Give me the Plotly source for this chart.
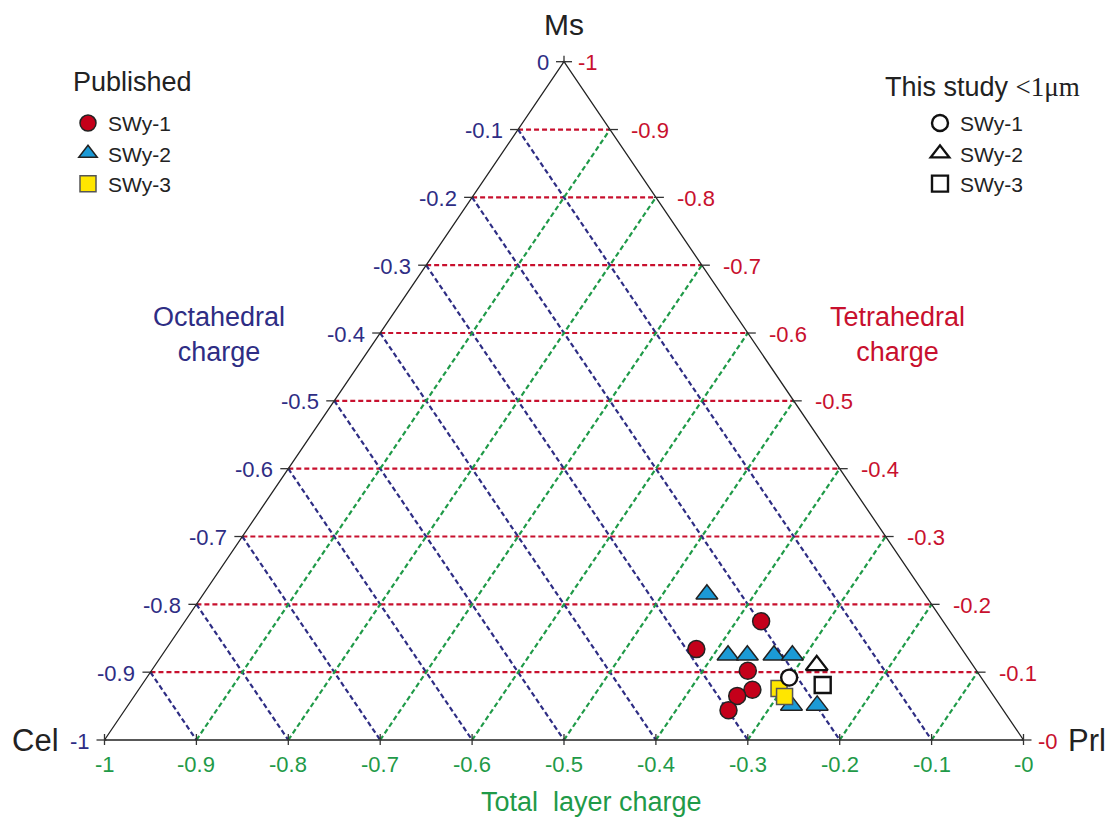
import plotly.graph_objects as go

# Layer-charge composition of the samples: octahedral and tetrahedral charge
pub_swy1_oct = [-0.198, -0.289, -0.249, -0.258, -0.279, -0.299]
pub_swy1_tet = [-0.175, -0.134, -0.102, -0.074, -0.065, -0.044]
pub_swy2_oct = [-0.237, -0.259, -0.238, -0.209, -0.189, -0.227, -0.199]
pub_swy2_tet = [-0.215, -0.125, -0.125, -0.125, -0.125, -0.051, -0.051]
pub_swy3_oct = [-0.228, -0.228]
pub_swy3_tet = [-0.076, -0.064]
study_swy1_oct = [-0.209]
study_swy1_tet = [-0.092]
study_swy2_oct = [-0.170]
study_swy2_tet = [-0.110]
study_swy3_oct = [-0.178]
study_swy3_tet = [-0.081]

# Grid / tick levels (charge magnitude) and their labels
grid_levels = [0.1, 0.2, 0.3, 0.4, 0.5, 0.6, 0.7, 0.8, 0.9]
tick_levels = [0.0, 0.1, 0.2, 0.3, 0.4, 0.5, 0.6, 0.7, 0.8, 0.9, 1.0]
oct_tick_labels = ["0", "-0.1", "-0.2", "-0.3", "-0.4", "-0.5", "-0.6", "-0.7", "-0.8", "-0.9", "-1"]
tet_tick_labels = ["-0", "-0.1", "-0.2", "-0.3", "-0.4", "-0.5", "-0.6", "-0.7", "-0.8", "-0.9", "-1"]
total_tick_labels = ["-1", "-0.9", "-0.8", "-0.7", "-0.6", "-0.5", "-0.4", "-0.3", "-0.2", "-0.1", "-0"]
total_tick_values = [-1.0, -0.9, -0.8, -0.7, -0.6, -0.5, -0.4, -0.3, -0.2, -0.1, 0.0]

NAVY = "#2e2d84"
RED = "#c8102e"
GREEN = "#1f9a48"
INK = "#222222"
FONT = "Arial, Liberation Sans, sans-serif"

# Pixel scale of the diagram (used for small tick lengths)
PX_X = 919.0
PX_Y = 678.3


def project(oct_c, tet_c):
    """Map (octahedral, tetrahedral) charge to diagram coordinates.
    Cel (-1, 0) -> (-1, 0); Prl (0, 0) -> (0, 0); Ms (0, -1) -> (-0.5, 1)."""
    xs = [o + 0.5 * t for o, t in zip(oct_c, tet_c)]
    ys = [-t for t in tet_c]
    return xs, ys


fig = go.Figure()


def add_segments(segs, color, width, dash=None):
    xs, ys = [], []
    for (x0, y0), (x1, y1) in segs:
        xs += [x0, x1, None]
        ys += [y0, y1, None]
    fig.add_trace(go.Scatter(x=xs, y=ys, mode="lines", showlegend=False, hoverinfo="skip",
                             line=dict(color=color, width=width, dash=dash)))


def pt(o, t):
    x, y = project([o], [t])
    return (x[0], y[0])


DASH = "5px,3px"
# Tetrahedral-charge grid (horizontal, red)
add_segments([(pt(-(1 - k), -k), pt(0, -k)) for k in grid_levels], RED, 2.2, DASH)
# Octahedral-charge grid (navy)
add_segments([(pt(-k, -(1 - k)), pt(-k, 0)) for k in grid_levels], NAVY, 2.2, DASH)
# Total-charge grid (green): constant oct + tet
add_segments([(pt(-k, 0), pt(0, -k)) for k in grid_levels], GREEN, 2.2, DASH)

# Triangle frame
cel, prl, ms = pt(-1, 0), pt(0, 0), pt(0, -1)
fig.add_trace(go.Scatter(x=[cel[0], prl[0], ms[0], cel[0]], y=[cel[1], prl[1], ms[1], cel[1]],
                         mode="lines", showlegend=False, hoverinfo="skip",
                         line=dict(color=INK, width=1.3)))

# Tick marks
tick_segs = []
for k in tick_levels:
    lx, ly = pt(-k, -(1 - k))
    tick_segs.append(((lx - 8 / PX_X, ly), (lx + 2 / PX_X, ly)))
    rx, ry = pt(0, -k)
    tick_segs.append(((rx - 2 / PX_X, ry), (rx + 8 / PX_X, ry)))
for v in total_tick_values:
    bx, by = pt(v, 0)
    tick_segs.append(((bx, by - 5 / PX_Y), (bx, by + 6 / PX_Y)))
tick_segs.append(((ms[0], ms[1]), (ms[0], ms[1] + 6 / PX_Y)))
add_segments(tick_segs, "#333333", 1.3)


# Sample markers
def add_points(oct_c, tet_c, name, symbol, fill, edge, ew, size, legend, rank):
    xs, ys = project(oct_c, tet_c)
    fig.add_trace(go.Scatter(x=xs, y=ys, mode="markers", name=name, legend=legend, legendrank=rank,
                             marker=dict(symbol=symbol, size=size, color=fill,
                                         line=dict(color=edge, width=ew)),
                             hoverinfo="skip"))


add_points(pub_swy2_oct, pub_swy2_tet, "SWy-2", "triangle-up", "#1b9ad6", INK, 1.5, 19, "legend", 2)
add_points(pub_swy1_oct, pub_swy1_tet, "SWy-1", "circle", "#c4001a", INK, 1.5, 17, "legend", 1)
add_points(pub_swy3_oct, pub_swy3_tet, "SWy-3", "square", "#ffe600", "#555555", 1.5, 16, "legend", 3)
add_points(study_swy1_oct, study_swy1_tet, "SWy-1", "circle", "white", "#111111", 2.4, 16, "legend2", 1)
add_points(study_swy2_oct, study_swy2_tet, "SWy-2", "triangle-up", "white", "#111111", 2.4, 19, "legend2", 2)
add_points(study_swy3_oct, study_swy3_tet, "SWy-3", "square", "white", "#111111", 2.4, 16, "legend2", 3)

annotations = []
TICK_FONT = dict(family=FONT, size=22)

# Octahedral-charge labels along the left side
for k, lab in zip(tick_levels, oct_tick_labels):
    x, y = pt(-k, -(1 - k))
    annotations.append(dict(x=x, y=y, text=lab, showarrow=False, xanchor="right", yanchor="middle",
                            xshift=-13, yshift=-1, font=dict(color=NAVY, **TICK_FONT)))
# Tetrahedral-charge labels along the right side
for k, lab in zip(tick_levels, tet_tick_labels):
    x, y = pt(0, -k)
    shift = 12 if k in (0.0, 1.0) else 19
    annotations.append(dict(x=x, y=y, text=lab, showarrow=False, xanchor="left", yanchor="middle",
                            xshift=shift, yshift=-1, font=dict(color=RED, **TICK_FONT)))
# Total-charge labels along the base
for v, lab in zip(total_tick_values, total_tick_labels):
    x, y = pt(v, 0)
    annotations.append(dict(x=x, y=y, text=lab, showarrow=False, xanchor="center", yanchor="middle",
                            yshift=-24, font=dict(color=GREEN, **TICK_FONT)))

# End-member names
annotations += [
    dict(x=ms[0], y=ms[1], text="Ms", showarrow=False, xanchor="center", yanchor="middle",
         yshift=37, font=dict(family=FONT, size=30, color=INK)),
    dict(x=cel[0], y=cel[1], text="Cel", showarrow=False, xanchor="right", yanchor="middle",
         xshift=-44, font=dict(family=FONT, size=31, color=INK)),
    dict(x=prl[0], y=prl[1], text="Prl", showarrow=False, xanchor="left", yanchor="middle",
         xshift=42, font=dict(family=FONT, size=31, color=INK)),
]

# Axis titles and legend headings (paper coordinates)
W, H = 1105, 819


def paper(px, py):
    return px / W, 1 - py / H


for txt, (px, py), col in [
    ("Octahedral<br>charge", (219, 334), NAVY),
    ("Tetrahedral<br>charge", (897, 334), RED),
    ("Total  layer charge", (591, 802), GREEN),
    ("Published", (132, 82), INK),
    ("This study <span style=\"font-family:Liberation Serif\">&lt;1μm</span>", (982, 87), INK),
]:
    x, y = paper(px, py)
    annotations.append(dict(x=x, y=y, xref="paper", yref="paper", text=txt, showarrow=False,
                            xanchor="center", yanchor="middle",
                            font=dict(family=FONT, size=27, color=col)))

x_min = -1 - 104.5 / PX_X
x_max = (W - 1023.5) / PX_X
y_min = -(H - 740) / PX_Y
y_max = 1 + 61.7 / PX_Y

legend_common = dict(xanchor="left", yanchor="top", bgcolor="rgba(0,0,0,0)", borderwidth=0,
                     font=dict(family=FONT, size=21, color=INK), tracegroupgap=0)

fig.update_layout(
    width=W, height=H,
    margin=dict(l=0, r=0, t=0, b=0),
    paper_bgcolor="white", plot_bgcolor="white",
    xaxis=dict(range=[x_min, x_max], visible=False, fixedrange=True),
    yaxis=dict(range=[y_min, y_max], visible=False, fixedrange=True),
    showlegend=True,
    legend=dict(x=68 / W, y=1 - 102.9 / H, **legend_common),
    legend2=dict(x=920 / W, y=1 - 102.9 / H, **legend_common),
    annotations=annotations,
)

fig.write_html("out.html")
